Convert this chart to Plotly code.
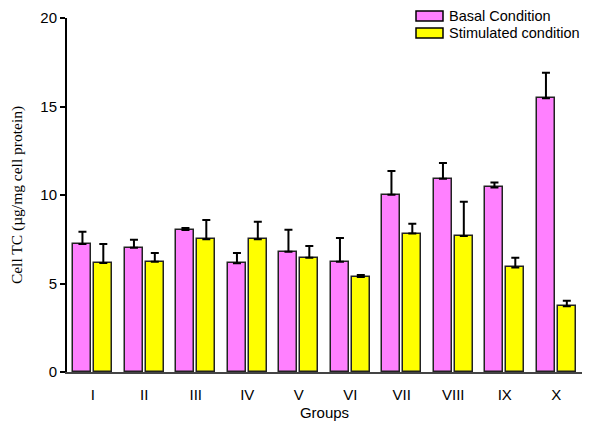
import plotly.graph_objects as go

groups = ["I", "II", "III", "IV", "V", "VI", "VII", "VIII", "IX", "X"]
series_names = ["Basal Condition", "Stimulated condition"]
basal = [7.23, 7.02, 8.02, 6.14, 6.80, 6.23, 10.02, 10.92, 10.43, 15.46]
basal_err = [0.70, 0.45, 0.12, 0.58, 1.24, 1.34, 1.34, 0.89, 0.27, 1.45]
stim = [6.16, 6.23, 7.50, 7.50, 6.46, 5.37, 7.82, 7.68, 5.91, 3.71]
stim_err = [1.07, 0.49, 1.09, 0.99, 0.66, 0.11, 0.56, 1.94, 0.55, 0.32]
y_ticks = [0, 5, 10, 15, 20]

colors = ["#FF80FF", "#FFFF00"]
xpos = list(range(1, len(groups) + 1))

fig = go.Figure()
for name, vals, errs, col, off in [
    (series_names[0], basal, basal_err, colors[0], -0.375),
    (series_names[1], stim, stim_err, colors[1], 0.03),
]:
    fig.add_trace(go.Bar(
        x=xpos, y=vals, name=name, width=0.35, offset=off,
        marker=dict(color=col, line=dict(color="#222222", width=1.5)),
        error_y=dict(type="data", array=errs, arrayminus=[0] * len(errs),
                     symmetric=False, color="black", thickness=2, width=4),
        showlegend=False,
    ))

# custom legend (wide swatches as in the reference)
leg_x0, leg_x1 = 416, 443
for i, (name, col) in enumerate(zip(series_names, colors)):
    yc = 16 + i * 17
    fig.add_shape(type="rect", xref="paper", yref="paper",
                  x0=(leg_x0 - 67) / 515, x1=(leg_x1 - 67) / 515,
                  y0=(372 - (yc + 5)) / 354, y1=(372 - (yc - 5)) / 354,
                  fillcolor=col, line=dict(color="black", width=1.5))
    fig.add_annotation(xref="paper", yref="paper",
                       x=(447 - 67) / 515, y=(372 - yc) / 354,
                       text=name, showarrow=False, xanchor="left", yanchor="middle",
                       font=dict(family="Liberation Sans, Arial", size=14.5, color="black"))

fig.update_layout(
    width=595, height=421,
    margin=dict(l=67, r=13, t=18, b=49),
    plot_bgcolor="white", paper_bgcolor="white",
    bargap=0,
    font=dict(family="Liberation Sans, Arial", size=15, color="black"),
)
fig.update_xaxes(
    range=[0.5, 10.5], tickvals=xpos, ticktext=groups,
    showline=True, linecolor="#444444", linewidth=1.5,
    ticks="outside", ticklen=8, tickcolor="rgba(0,0,0,0)",
    showgrid=False, zeroline=False, automargin=False,
    tickfont=dict(size=15),
    title=dict(text="Groups", font=dict(size=15), standoff=7),
)
fig.update_yaxes(
    range=[0, 20], tickvals=y_ticks,
    showline=True, linecolor="black", linewidth=2,
    ticks="outside", ticklen=5, tickwidth=2, tickcolor="black",
    showgrid=False, zeroline=False, automargin=False,
    tickfont=dict(size=15),
    title=dict(text="Cell TC (µg/mg cell protein)",
               font=dict(family="Liberation Serif, Times New Roman", size=15.5), standoff=14),
)

fig.write_html("out.html", config={"displayModeBar": False},
               post_script="document.body.style.margin='0';document.body.style.overflow='hidden';")
